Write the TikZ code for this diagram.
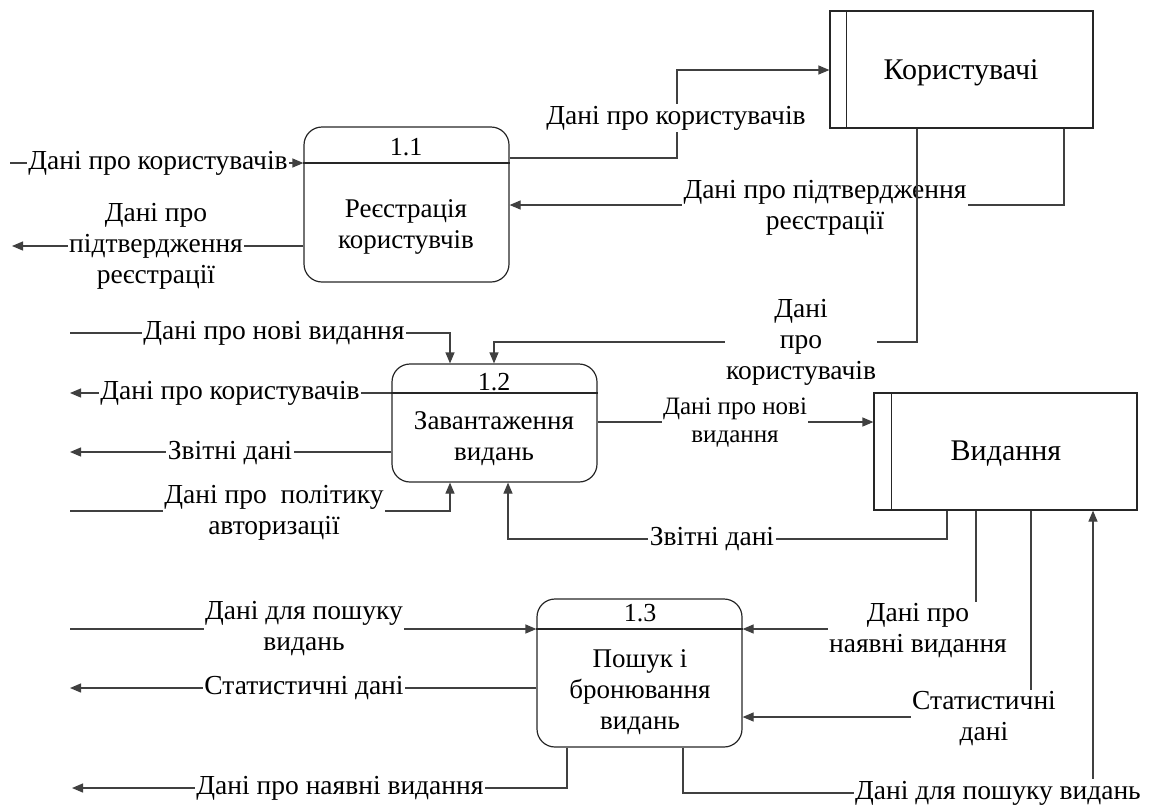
\documentclass[tikz,border=0pt]{standalone}
\usepackage{fontspec}
\setmainfont{Liberation Serif}
\usetikzlibrary{arrows.meta}
\begin{document}
\begin{tikzpicture}[x=1pt,y=-1pt,
  flow/.style={draw=black!75, line width=1.2pt, -{Triangle[length=11pt,width=9pt]}},
  lbl/.style={fill=white, inner sep=1.5pt, align=center, font=\fontsize{27.5}{31}\selectfont},
  slbl/.style={fill=white, inner sep=1.5pt, align=center, font=\fontsize{25}{28}\selectfont},
  proc/.style={draw=black!85, line width=1.2pt, rounded corners=18pt, inner sep=0pt},
  store/.style={draw=black!85, line width=1.2pt, inner sep=0pt},
  ptxt/.style={align=center, font=\fontsize{27}{31}\selectfont},
  stxt/.style={align=center, font=\fontsize{30}{34}\selectfont},
  ntxt/.style={font=\fontsize{26}{30}\selectfont, inner sep=0pt},
  ]
\useasboundingbox (0,0) rectangle (1149,807);

% ---- shapes ----
\node[store, minimum width=263pt, minimum height=117pt] (S1) at (961.5,69.5) {};
\draw[store] ([xshift=17pt]S1.north west) -- ([xshift=17pt]S1.south west);
\node[stxt] (S1t) at (961,73) {Користувачі};

\node[store, minimum width=263pt, minimum height=117pt] (S2) at (1005.5,451.5) {};
\draw[store] ([xshift=18pt]S2.north west) -- ([xshift=18pt]S2.south west);
\node[stxt] (S2t) at (1006,454) {Видання};

\node[proc, minimum width=205pt, minimum height=155pt] (P11) at (406.5,204.5) {};
\coordinate (d11) at (0,163);
\draw[store] (P11.west |- d11) -- (P11.east |- d11);
\node[ntxt] (P11n) at (406,147) {1.1};
\node[ptxt] (P11t) at (406,227) {Реєстрація\\користувчів};

\node[proc, minimum width=205pt, minimum height=118pt] (P12) at (494.5,423) {};
\coordinate (d12) at (0,393);
\draw[store] (P12.west |- d12) -- (P12.east |- d12);
\node[ntxt] (P12n) at (494,382) {1.2};
\node[ptxt] (P12t) at (494,439) {Завантаження\\видань};

\node[proc, minimum width=205pt, minimum height=148pt] (P13) at (639.5,673) {};
\coordinate (d13) at (0,629);
\draw[store] (P13.west |- d13) -- (P13.east |- d13);
\node[ntxt] (P13n) at (640,613) {1.3};
\node[ptxt] (P13t) at (640,692) {Пошук і\\бронювання\\видань};

% ---- coordinates ----
\coordinate (c1a) at (10,163);
\coordinate (c2a) at (12,246);
\coordinate (c3a) at (677,158);
\coordinate (c3b) at (677,70);
\coordinate (c4a) at (1064,205);
\coordinate (c5a) at (917,342);
\coordinate (c5b) at (494,342);
\coordinate (c6a) at (70,333);
\coordinate (c6b) at (450,333);
\coordinate (c7a) at (70,393);
\coordinate (c8a) at (70,452);
\coordinate (c9a) at (70,511);
\coordinate (c9b) at (450,511);
\coordinate (c10a) at (600,422);
\coordinate (c11a) at (947,539);
\coordinate (c11b) at (508,539);
\coordinate (c12a) at (976,629);
\coordinate (c13a) at (1031,717);
\coordinate (c14a) at (683,793);
\coordinate (c14b) at (1093,793);
\coordinate (c15a) at (70,629);
\coordinate (c16a) at (70,688);
\coordinate (c17a) at (567,788);
\coordinate (c17b) at (72,788);

% ---- connectors ----
\draw[flow] (c1a) -- (P11.west |- c1a);
\draw[flow] (P11.west |- c2a) -- (c2a);
\draw[flow] (P11.east |- c3a) -- (c3a) -- (c3b) -- (S1.west |- c3b);
\draw[flow] (S1.south -| c4a) -- (c4a) -- (P11.east |- c4a);
\draw[flow] (c6a) -- (c6b) -- (P12.north -| c6b);
\draw[flow] (P12.west |- c7a) -- (c7a);
\draw[flow] (P12.west |- c8a) -- (c8a);
\draw[flow] (c9a) -- (c9b) -- (P12.south -| c9b);
\draw[flow] (P12.east |- c10a) -- (S2.west |- c10a);
\draw[flow] (S2.south -| c11a) -- (c11a) -- (c11b) -- (P12.south -| c11b);
\draw[flow] (S2.south -| c12a) -- (c12a) -- (P13.east |- c12a);
\draw[flow] (S2.south -| c13a) -- (c13a) -- (P13.east |- c13a);
\draw[flow] (P13.south -| c14a) -- (c14a) -- (c14b) -- (S2.south -| c14b);
\draw[flow] (c15a) -- (P13.west |- c15a);
\draw[flow] (P13.west |- c16a) -- (c16a);
\draw[flow] (P13.south -| c17a) -- (c17a) -- (c17b);

% ---- labels ----
\node[lbl] (l1) at (158,163) {Дані про користувачів};
\node[lbl] (l2) at (156,246) {Дані про\\підтвердження\\реєстрації};
\node[lbl] (l3) at (676,118) {Дані про користувачів};
\node[lbl] (l4) at (825,208) {Дані про підтвердження\\реєстрації};
\node[lbl] (l6) at (274,333) {Дані про нові видання};
\node[lbl] (l7) at (230,393) {Дані про користувачів};
\node[lbl] (l8) at (230,453) {Звітні дані};
\node[lbl] (l9) at (274,513) {Дані про\ \ політику\\авторизації};
\node[slbl] (l10) at (735,423) {Дані про нові\\видання};
\node[lbl] (l11) at (712,539) {Звітні дані};
\node[lbl] (l12) at (918,631) {Дані про\\наявні видання};
\node[lbl] (l13) at (984,719) {Статистичні\\дані};
\node[lbl] (l14) at (998,793) {Дані для пошуку видань};
\node[lbl] (l15) at (304,629) {Дані для пошуку\\видань};
\node[lbl] (l16) at (304,688) {Статистичні дані};
\node[lbl] (l17) at (340,788) {Дані про наявні видання};

% connector drawn over the label it crosses
\draw[flow] (S1.south -| c5a) -- (c5a) -- (c5b) -- (P12.north -| c5b);
\node[lbl] (l5) at (801,342) {Дані\\про\\користувачів};
\end{tikzpicture}
\end{document}
